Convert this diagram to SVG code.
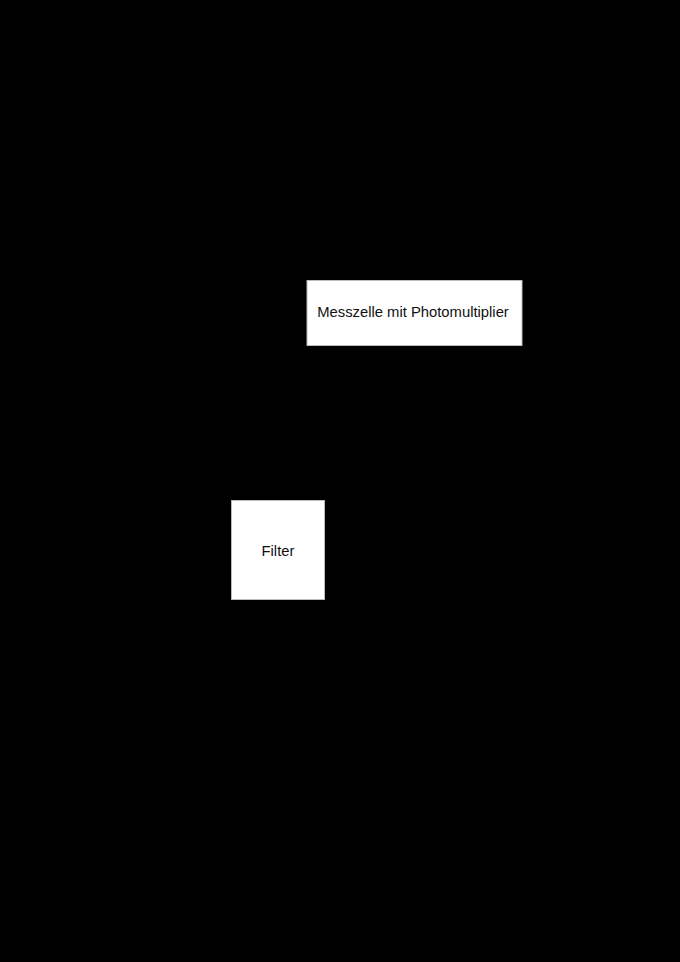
<svg xmlns="http://www.w3.org/2000/svg" width="680" height="962" viewBox="0 0 680 962">
<style>
.box{fill:#ffffff;stroke:#bbbbbb;stroke-width:1}
.lbl{font-family:"Liberation Sans",Arial,sans-serif;font-size:14.8px;fill:#111111;text-anchor:middle;dominant-baseline:central}
</style>
<rect x="0" y="0" width="680" height="962" fill="#000000"/>
<g id="connectors"></g>
<g id="messzelle">
<rect class="box" x="307" y="280.5" width="215" height="65"/>
<text class="lbl" x="413" y="312">Messzelle mit Photomultiplier</text>
</g>
<g id="filter">
<rect class="box" x="231.5" y="500.5" width="93" height="99"/>
<text class="lbl" x="278" y="551">Filter</text>
</g>
</svg>
